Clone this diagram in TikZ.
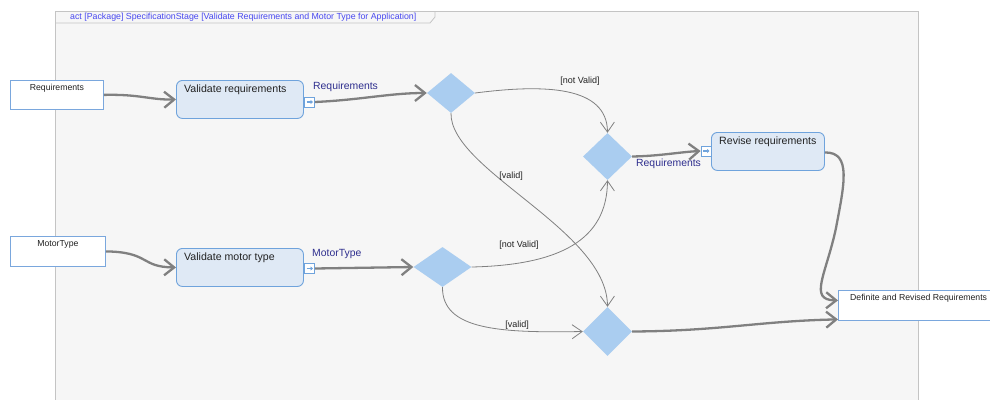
\documentclass[tikz,border=0pt]{standalone}
\usepackage{fontspec}
\setmainfont{Liberation Sans}
\usetikzlibrary{arrows.meta,shapes.geometric,calc}
\definecolor{framebg}{HTML}{F6F6F6}
\definecolor{frameline}{HTML}{C4C4C4}
\definecolor{dia}{HTML}{AACDF0}
\definecolor{actfill}{HTML}{DFE9F5}
\definecolor{actline}{HTML}{6FA3DC}
\definecolor{objline}{HTML}{7AA7DD}
\definecolor{flow}{HTML}{808080}
\definecolor{pinlbl}{HTML}{2E2E8E}
\definecolor{titleblue}{HTML}{4848F0}
\definecolor{txt}{HTML}{222222}
\begin{document}
\begin{tikzpicture}[x=1pt,y=-1pt,
  objbox/.style={draw=objline, fill=white, line width=0.8pt, inner sep=0, anchor=north west},
  actbox/.style={draw=actline, fill=actfill, line width=0.9pt, rounded corners=6pt, inner sep=0, anchor=north west, minimum width=127pt, minimum height=38pt},
  dec/.style={diamond, fill=dia, inner sep=0, draw=none},
  pinbox/.style={draw=actline, fill=white, line width=0.7pt, inner sep=0, minimum width=10pt, minimum height=10pt,
    path picture={\draw[actline, line width=1.3pt, -{Triangle[length=2.5pt,width=4pt]}] ($(path picture bounding box.west)+(2pt,0)$) -- ($(path picture bounding box.east)+(-1.5pt,0)$);}},
  thickflow/.style={draw=flow, line width=2.3pt, -{Straight Barb[length=10pt,width=16pt,line width=2.3pt]}},
  thinflow/.style={draw=flow, line width=0.8pt, -{Straight Barb[length=10pt,width=14pt,line width=0.8pt]}},
  guard/.style={font=\fontsize{9pt}{10pt}\selectfont, text=txt, inner sep=0},
  pinname/.style={font=\fontsize{10.4pt}{12pt}\selectfont, text=pinlbl, inner sep=0},
  objtext/.style={font=\fontsize{8.7pt}{10pt}\selectfont, text=txt, inner sep=0},
  acttext/.style={font=\fontsize{10.6pt}{12pt}\selectfont, text=txt, inner sep=0}
]
\useasboundingbox (0,0) rectangle (990,399);
\clip (0,0) rectangle (990,399);
\fill[white] (0,0) rectangle (990,399);

% frame
\draw[fill=framebg, draw=frameline, line width=0.9pt] (55,11) rectangle (918,410);
\draw[draw=frameline, line width=0.8pt] (55,23) -- (430,23) -- (435,17) -- (435,11);
\node[anchor=west, font=\fontsize{8.8pt}{10pt}\selectfont, text=titleblue, inner sep=0] (title) at (70,17)
  {act [Package] SpecificationStage [Validate Requirements and Motor Type for Application]};

% object nodes
\node[objbox, minimum width=93pt, minimum height=29pt,
  label={[objtext, anchor=north, yshift=-4pt]north:Requirements}] (req) at (10,80) {};
\node[objbox, minimum width=95pt, minimum height=30pt,
  label={[objtext, anchor=north, yshift=-4pt]north:MotorType}] (mot) at (10,236) {};
\node[objbox, minimum width=170pt, minimum height=30pt,
  label={[objtext, anchor=north west, xshift=12pt, yshift=-4pt]north west:Definite and Revised Requirements}] (def) at (838,290) {};

% actions
\node[actbox, label={[acttext, anchor=north west, xshift=8pt, yshift=-5pt]north west:Validate requirements}] (vr) at (176,80) {};
\node[actbox, label={[acttext, anchor=north west, xshift=8pt, yshift=-5pt]north west:Validate motor type}] (vm) at (176,248) {};
\node[actbox, minimum width=113pt, label={[acttext, anchor=north west, xshift=8pt, yshift=-5pt]north west:Revise requirements}] (rv) at (711,132) {};

% pins
\node[pinbox] (p1) at (309.5,102) {};
\node[pinbox] (p2) at (706,151) {};
\node[pinbox] (p3) at (309.5,268.5) {};

% decisions
\node[dec, minimum width=48pt, minimum height=40pt] (d1) at (451,93) {};
\node[dec, minimum width=49pt, minimum height=47pt] (d2) at (607.5,156.5) {};
\node[dec, minimum width=58pt, minimum height=40pt] (d3) at (442.5,267) {};
\node[dec, minimum width=49pt, minimum height=49pt] (d4) at (607.5,331.5) {};

% thick object flows
\draw[thickflow] (req.east) .. controls (140,94) and (150,100) .. (vr.west);
\draw[thickflow] (mot.east) .. controls (150,252) and (140,267) .. (vm.west);
\draw[thickflow] (p1.east) .. controls (360,100) and (390,93) .. (d1.west);
\draw[thickflow] (p3.east) -- (d3.west);
\draw[thickflow] (d2.east) .. controls (660,156) and (680,152) .. (p2.west);
\draw[thickflow] (d4.east) .. controls (720,331) and (760,321) .. ($(def.west)+(0,14)$);
\coordinate (rvmid) at (836,228);
\draw[thickflow] ($(rv.east)+(0,1)$) .. controls (852,152) and (844,185) .. (rvmid)
  .. controls (826,275) and (808,300) .. ($(def.west)+(0,-5)$);

% thin control flows
\draw[thinflow] (d1.east) .. controls (545,84) and (607,86) .. (d2.north);
\draw[thinflow] (d1.south) .. controls (450,170) and (607,230) .. (d4.north);
\draw[thinflow] (d3.east) .. controls (560,265) and (607,240) .. (d2.south);
\draw[thinflow] (d3.south) .. controls (442,330) and (500,333) .. (d4.west);

% labels
\node[pinname, anchor=south west] (l1) at (313,92) {Requirements};
\node[pinname, anchor=south west] (l2) at (312,259) {MotorType};
\node[pinname, anchor=north west] (l3) at (636,159) {Requirements};
\node[guard] (g1) at (580,81) {[not Valid]};
\node[guard] (g2) at (511,176) {[valid]};
\node[guard] (g3) at (519,245) {[not Valid]};
\node[guard] (g4) at (517,325) {[valid]};
\end{tikzpicture}
\end{document}
